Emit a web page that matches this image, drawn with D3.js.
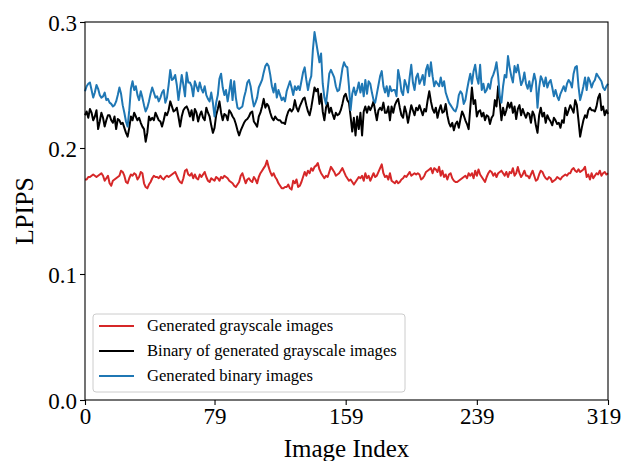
<!DOCTYPE html>
<html>
<head>
<meta charset="utf-8">
<script src="https://cdn.jsdelivr.net/npm/d3@7"></script>
<style>
  body { margin: 0; background: #fff; }
  text { font-family: "Liberation Serif", "Times New Roman", serif; }
</style>
</head>
<body>
<script>

// LPIPS per image (index 0..319)
var grayscale = [
  0.175,0.175,0.177,0.177,0.178,0.179,0.178,0.177,0.178,0.179,
  0.180,0.178,0.174,0.176,0.178,0.172,0.170,0.174,0.175,0.176,
  0.177,0.178,0.182,0.181,0.178,0.173,0.172,0.176,0.179,0.178,
  0.180,0.179,0.175,0.177,0.181,0.180,0.172,0.169,0.168,0.171,
  0.173,0.176,0.178,0.177,0.177,0.176,0.178,0.176,0.175,0.177,
  0.178,0.177,0.178,0.179,0.180,0.181,0.178,0.175,0.173,0.172,
  0.176,0.182,0.183,0.179,
  0.178,0.180,0.176,0.179,0.176,0.175,0.179,0.177,0.179,0.181,
  0.177,0.174,0.173,0.176,0.175,0.174,0.177,0.176,0.174,0.177,
  0.176,0.178,0.177,0.176,0.174,0.173,0.172,0.170,0.169,0.171,
  0.173,0.178,0.180,0.176,0.172,0.175,0.176,0.174,0.173,0.177,
  0.175,0.172,0.177,0.180,0.182,0.184,0.186,0.190,0.185,0.181,
  0.178,0.180,0.177,0.175,0.172,0.170,0.168,0.168,0.169,0.169,
  0.171,0.168,0.167,0.174,
  0.172,0.175,0.169,0.170,0.173,0.177,0.181,0.178,0.182,0.180,
  0.184,0.182,0.185,0.186,0.188,0.183,0.180,0.178,0.176,0.178,
  0.177,0.181,0.185,0.183,0.181,0.178,0.179,0.180,0.182,0.184,
  0.181,0.178,0.176,0.174,0.175,0.173,0.171,0.173,0.175,0.177,
  0.176,0.178,0.174,0.180,0.176,0.178,0.174,0.177,0.180,0.177,
  0.178,0.181,0.184,0.187,0.180,0.177,0.178,0.175,0.180,0.174,
  0.173,0.172,0.174,0.172,
  0.173,0.175,0.176,0.178,0.177,0.179,0.181,0.178,0.179,0.180,
  0.179,0.180,0.179,0.175,0.176,0.178,0.181,0.182,0.183,0.184,
  0.180,0.184,0.183,0.181,0.185,0.178,0.182,0.177,0.179,0.175,
  0.179,0.180,0.176,0.174,0.173,0.173,0.174,0.175,0.176,0.177,
  0.178,0.176,0.180,0.178,0.180,0.176,0.182,0.178,0.183,0.179,
  0.177,0.175,0.173,0.177,0.180,0.182,0.181,0.178,0.180,0.177,
  0.180,0.181,0.182,0.180,
  0.178,0.181,0.177,0.181,0.180,0.184,0.178,0.180,0.185,0.180,
  0.177,0.179,0.182,0.178,0.178,0.176,0.179,0.182,0.178,0.174,
  0.175,0.179,0.182,0.181,0.178,0.176,0.175,0.177,0.176,0.173,
  0.174,0.175,0.177,0.176,0.175,0.177,0.178,0.179,0.178,0.180,
  0.180,0.183,0.184,0.182,0.181,0.183,0.181,0.182,0.183,0.185,
  0.177,0.179,0.175,0.180,0.176,0.178,0.180,0.179,0.182,0.178,
  0.180,0.181,0.179,0.180
];

var binaryOfGray = [
  0.226,0.229,0.224,0.231,0.228,0.222,0.225,0.230,0.215,0.221,
  0.228,0.224,0.217,0.222,0.226,0.226,0.222,0.220,0.225,0.215,
  0.223,0.222,0.219,0.220,0.216,0.212,0.209,0.216,0.225,0.222,
  0.228,0.225,0.222,0.224,0.220,0.217,0.215,0.205,0.212,0.225,
  0.222,0.224,0.222,0.228,0.225,0.222,0.221,0.217,0.222,0.228,
  0.226,0.230,0.237,0.233,0.229,0.230,0.232,0.225,0.217,0.225,
  0.230,0.232,0.233,0.230,
  0.225,0.230,0.222,0.231,0.228,0.221,0.226,0.229,0.224,0.222,
  0.232,0.228,0.225,0.218,0.212,0.216,0.226,0.231,0.237,0.228,
  0.222,0.227,0.226,0.222,0.230,0.228,0.225,0.223,0.219,0.214,
  0.210,0.214,0.217,0.220,0.222,0.223,0.225,0.228,0.229,0.221,
  0.219,0.217,0.225,0.228,0.233,0.239,0.232,0.235,0.233,0.228,
  0.224,0.222,0.225,0.223,0.222,0.222,0.220,0.220,0.219,0.225,
  0.229,0.231,0.229,0.231,
  0.238,0.232,0.229,0.233,0.236,0.239,0.240,0.234,0.229,0.226,
  0.232,0.240,0.248,0.245,0.247,0.235,0.243,0.229,0.222,0.232,
  0.236,0.228,0.232,0.227,0.223,0.228,0.226,0.227,0.230,0.235,
  0.241,0.243,0.238,0.236,0.225,0.213,0.224,0.210,0.225,0.215,
  0.228,0.210,0.229,0.233,0.228,0.233,0.230,0.233,0.237,0.229,
  0.222,0.230,0.232,0.230,0.236,0.228,0.228,0.233,0.222,0.233,
  0.228,0.234,0.237,0.239,
  0.232,0.226,0.224,0.233,0.228,0.220,0.227,0.234,0.230,0.226,
  0.232,0.230,0.234,0.230,0.226,0.231,0.229,0.238,0.245,0.237,
  0.231,0.228,0.232,0.224,0.230,0.234,0.228,0.229,0.235,0.226,
  0.220,0.217,0.220,0.214,0.219,0.221,0.216,0.223,0.229,0.226,
  0.222,0.219,0.215,0.232,0.248,0.235,0.238,0.225,0.229,0.230,
  0.225,0.228,0.222,0.226,0.225,0.219,0.224,0.226,0.238,0.233,
  0.249,0.236,0.222,0.232,
  0.226,0.230,0.236,0.232,0.236,0.228,0.233,0.223,0.231,0.234,
  0.226,0.231,0.227,0.224,0.228,0.227,0.220,0.229,0.226,0.218,
  0.212,0.226,0.232,0.225,0.228,0.220,0.226,0.223,0.221,0.218,
  0.224,0.222,0.219,0.220,0.216,0.222,0.220,0.232,0.226,0.230,
  0.234,0.231,0.228,0.238,0.234,0.222,0.209,0.216,0.222,0.226,
  0.224,0.230,0.232,0.230,0.230,0.229,0.233,0.240,0.243,0.230,
  0.233,0.226,0.230,0.227
];

var generatedBinary = [
  0.245,0.249,0.251,0.252,0.246,0.240,0.244,0.250,0.247,0.242,
  0.240,0.241,0.244,0.238,0.239,0.236,0.235,0.233,0.234,0.237,
  0.242,0.248,0.243,0.234,0.228,0.221,0.217,0.230,0.247,0.253,
  0.246,0.249,0.242,0.238,0.245,0.240,0.234,0.229,0.232,0.237,
  0.243,0.248,0.244,0.240,0.241,0.237,0.240,0.244,0.246,0.236,
  0.240,0.250,0.262,0.254,0.255,0.258,0.250,0.238,0.248,0.258,
  0.250,0.241,0.260,0.252,
  0.252,0.249,0.241,0.253,0.249,0.245,0.252,0.247,0.244,0.249,
  0.242,0.239,0.237,0.244,0.236,0.225,0.236,0.242,0.255,0.259,
  0.248,0.242,0.246,0.237,0.245,0.254,0.238,0.253,0.240,0.232,
  0.231,0.232,0.233,0.240,0.245,0.252,0.254,0.249,0.240,0.233,
  0.236,0.240,0.248,0.251,0.254,0.260,0.265,0.267,0.265,0.258,
  0.249,0.244,0.251,0.240,0.246,0.242,0.238,0.240,0.237,0.245,
  0.249,0.253,0.248,0.242,
  0.249,0.246,0.249,0.246,0.253,0.260,0.264,0.254,0.246,0.253,
  0.257,0.278,0.292,0.284,0.276,0.268,0.275,0.251,0.240,0.235,
  0.246,0.259,0.262,0.259,0.256,0.249,0.245,0.246,0.254,0.263,
  0.268,0.265,0.264,0.249,0.230,0.243,0.248,0.242,0.246,0.252,
  0.244,0.251,0.241,0.254,0.243,0.253,0.251,0.244,0.238,0.236,
  0.243,0.250,0.257,0.261,0.249,0.244,0.249,0.241,0.249,0.245,
  0.246,0.246,0.241,0.262,
  0.255,0.245,0.242,0.254,0.250,0.244,0.256,0.266,0.252,0.246,
  0.256,0.259,0.251,0.254,0.258,0.250,0.262,0.266,0.257,0.268,
  0.257,0.249,0.253,0.251,0.249,0.256,0.249,0.253,0.244,0.240,
  0.236,0.234,0.232,0.230,0.229,0.233,0.242,0.245,0.243,0.235,
  0.238,0.246,0.253,0.259,0.251,0.261,0.266,0.256,0.251,0.266,
  0.246,0.251,0.244,0.246,0.251,0.247,0.255,0.258,0.262,0.268,
  0.257,0.241,0.236,0.249,
  0.258,0.256,0.273,0.264,0.257,0.252,0.265,0.260,0.266,0.258,
  0.250,0.253,0.260,0.251,0.247,0.253,0.245,0.252,0.259,0.253,
  0.232,0.248,0.257,0.254,0.249,0.256,0.248,0.252,0.254,0.248,
  0.241,0.246,0.241,0.238,0.243,0.246,0.249,0.245,0.251,0.254,
  0.252,0.248,0.259,0.264,0.265,0.249,0.238,0.243,0.249,0.256,
  0.246,0.256,0.253,0.248,0.252,0.254,0.259,0.257,0.255,0.253,
  0.248,0.246,0.249,0.251
];

var seriesNames = ['Generated grayscale images', 'Binary of generated grayscale images', 'Generated binary images'];
var seriesColors = ['#d62728', '#000000', '#1f77b4'];
var xTicks = [0, 79, 159, 239, 319];
var yTicks = [0.0, 0.1, 0.2, 0.3];

// svg board
var dimensions = { width: 623, height: 461 };
var margin = { left: 85, right: 15, top: 22, bottom: 61 };

var svg = d3.select('body')
  .append('svg')
  .attr('width', dimensions.width)
  .attr('height', dimensions.height);

var x = d3.scaleLinear().domain([0, 319]).range([margin.left, dimensions.width - margin.right]);
var y = d3.scaleLinear().domain([0, 0.3]).range([dimensions.height - margin.bottom, margin.top]);

var line = d3.line()
  .x(function(d, i) { return x(i); })
  .y(function(d) { return y(d); });

// lines
var allSeries = [grayscale, binaryOfGray, generatedBinary];
svg.selectAll('path.series')
  .data(allSeries)
  .enter()
  .append('path')
  .attr('class', 'series')
  .attr('d', line)
  .attr('fill', 'none')
  .attr('stroke', function(d, i) { return seriesColors[i]; })
  .attr('stroke-width', 2)
  .attr('stroke-linejoin', 'round');

// axes
var xAxis = svg.append('g')
  .attr('transform', 'translate(0,' + y(0) + ')')
  .call(d3.axisBottom(x).tickValues(xTicks).tickSize(5).tickPadding(3).tickFormat(d3.format('d')));

var yAxis = svg.append('g')
  .attr('transform', 'translate(' + x(0) + ',0)')
  .call(d3.axisLeft(y).tickValues(yTicks).tickSize(5).tickPadding(3).tickFormat(d3.format('.1f')));

[xAxis, yAxis].forEach(function(ax) {
  ax.select('.domain').remove();
  ax.selectAll('line').attr('stroke', '#000').attr('stroke-width', 1.1);
  ax.selectAll('text')
    .attr('fill', '#000')
    .style('font-family', '"Liberation Serif", serif')
    .style('font-size', '23px');
});
yAxis.selectAll('text').attr('dy', '0.35em');
// last x label sits at the window edge, pull it back inside
xAxis.selectAll('.tick text')
  .filter(function(d) { return d === 319; })
  .attr('text-anchor', 'end')
  .attr('dx', '0.55em');

// frame
svg.append('rect')
  .attr('x', x(0))
  .attr('y', y(0.3))
  .attr('width', x(319) - x(0))
  .attr('height', y(0) - y(0.3))
  .attr('fill', 'none')
  .attr('stroke', '#000')
  .attr('stroke-width', 1.1);

// axis labels
svg.append('text')
  .attr('x', (x(0) + x(319)) / 2)
  .attr('y', 457)
  .attr('text-anchor', 'middle')
  .style('font-size', '25px')
  .text('Image Index');

svg.append('text')
  .attr('transform', 'translate(33,' + (y(0) + y(0.3)) / 2 + ') rotate(-90)')
  .attr('text-anchor', 'middle')
  .style('font-size', '26px')
  .text('LPIPS');

// legend
var legend = svg.append('g').attr('transform', 'translate(93,314)');
legend.append('rect')
  .attr('width', 312)
  .attr('height', 78)
  .attr('rx', 3)
  .attr('fill', '#fff')
  .attr('fill-opacity', 0.8)
  .attr('stroke', '#cccccc')
  .attr('stroke-width', 1);

var rows = legend.selectAll('g.row')
  .data(seriesNames)
  .enter()
  .append('g')
  .attr('class', 'row')
  .attr('transform', function(d, i) { return 'translate(0,' + (12 + i * 25) + ')'; });

rows.append('line')
  .attr('x1', 6).attr('x2', 41)
  .attr('stroke', function(d, i) { return seriesColors[i]; })
  .attr('stroke-width', 2);

rows.append('text')
  .attr('x', 54)
  .attr('dy', '0.33em')
  .style('font-size', '16.6px')
  .text(function(d) { return d; });

</script>
</body>
</html>
